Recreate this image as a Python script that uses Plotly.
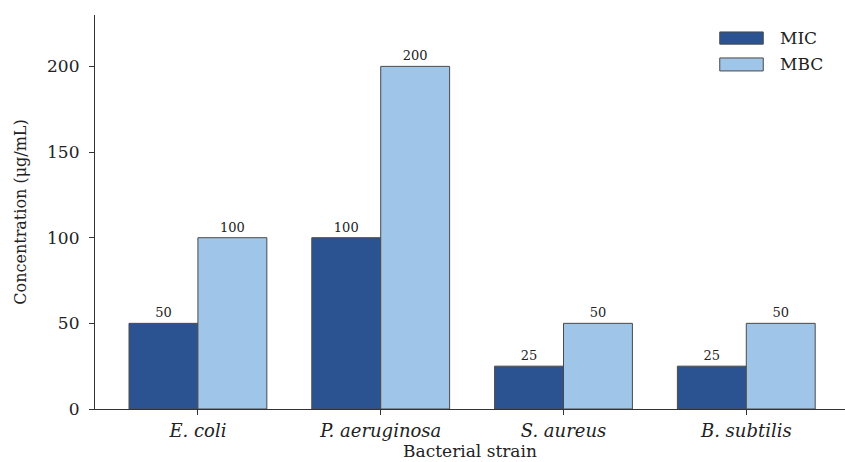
import plotly.graph_objects as go

strains = ["E. coli", "P. aeruginosa", "S. aureus", "B. subtilis"]
series_names = ["MIC", "MBC"]
mic_values = [50, 100, 25, 25]
mbc_values = [100, 200, 50, 50]
y_ticks = [0, 50, 100, 150, 200]

colors = {"MIC": "#2c5391", "MBC": "#9fc5e8"}
edge = "#4a4a4a"
font_family = "DejaVu Serif"
text_color = "#222"

x_pos = list(range(len(strains)))
bar_w = 0.377

fig = go.Figure()
for name, vals, off in [("MIC", mic_values, -bar_w), ("MBC", mbc_values, 0.0)]:
    fig.add_trace(go.Bar(
        x=x_pos, y=vals, name=name, width=bar_w, offset=off,
        marker=dict(color=colors[name], line=dict(color=edge, width=1)),
        text=[str(v) for v in vals], textposition="outside",
        textfont=dict(family=font_family, size=13, color=text_color),
        cliponaxis=False, showlegend=False,
    ))

# legend drawn as wide patches next to the series names
legend_rows = [(0.957, 0.926), (0.891, 0.858)]
for name, (y1, y0) in zip(series_names, legend_rows):
    fig.add_shape(type="rect", xref="paper", yref="paper",
                  x0=0.833, x1=0.891, y0=y0, y1=y1,
                  fillcolor=colors[name], line=dict(color=edge, width=1))
    fig.add_annotation(xref="paper", yref="paper", x=0.91, y=(y0 + y1) / 2,
                       text=name, showarrow=False, xanchor="left", yanchor="middle",
                       font=dict(family=font_family, size=17, color=text_color))

fig.update_layout(
    width=845, height=462,
    margin=dict(l=95, r=0, t=15, b=53),
    paper_bgcolor="white", plot_bgcolor="white",
    barmode="overlay",
    font=dict(family=font_family, color=text_color),
)
fig.update_xaxes(
    range=[-0.563, 3.54], tickmode="array", tickvals=x_pos,
    ticktext=[f"<i>{s}</i>" for s in strains],
    tickfont=dict(family=font_family, size=18, color=text_color),
    showline=True, linecolor="#333", linewidth=1.2,
    ticks="outside", ticklen=5, tickcolor="#333",
    showgrid=False, zeroline=False,
    title=dict(text="Bacterial strain", font=dict(family=font_family, size=17, color=text_color), standoff=0),
)
fig.update_yaxes(
    range=[0, 230], tickmode="array", tickvals=y_ticks,
    tickfont=dict(family=font_family, size=17, color=text_color),
    ticklabelstandoff=6,
    showline=True, linecolor="#333", linewidth=1.2,
    ticks="outside", ticklen=5, tickcolor="#333",
    showgrid=False, zeroline=False,
    title=dict(text="Concentration (μg/mL)", font=dict(family=font_family, size=16, color=text_color), standoff=16),
)

fig.write_html("out.html")
